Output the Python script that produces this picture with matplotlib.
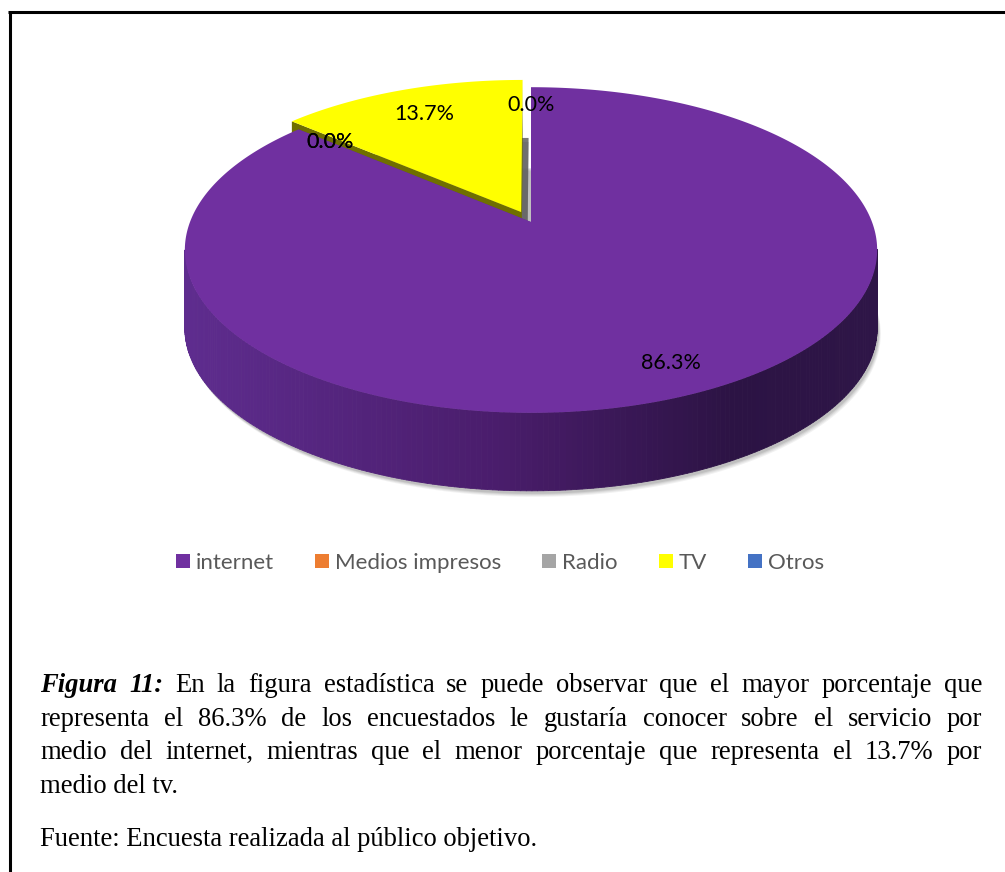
import numpy as np
import matplotlib.pyplot as plt
from matplotlib.patches import Polygon, Patch
from matplotlib.collections import PolyCollection
from matplotlib.colors import LinearSegmentedColormap

# survey answers (percent)
categories = ["internet", "Medios impresos", "Radio", "TV", "Otros"]
shares = [86.3, 0.0, 0.0, 13.7, 0.0]
colors = ["#7030A0", "#ED7D31", "#A5A5A5", "#FFFF00", "#4472C4"]
side_dark = ["#5E2C8E", "#A0501C", "#6E6E6E", "#6F6F00", "#2C4D8A"]
explode = [0.0, 0.0, 0.0, 0.07, 0.0]

caption_lines = [
    "Figura 11: En la figura estadística se puede observar que el mayor porcentaje que",
    "representa el 86.3% de los encuestados le gustaría conocer sobre el servicio por",
    "medio del internet, mientras que el menor porcentaje que representa el 13.7% por",
    "medio del tv.",
]
source_line = "Fuente: Encuesta realizada al público objetivo."

# 3d pie projection (pixel space)
CX, CY = 531.0, 222.0
A, B, K = 341.0, 158.0, 0.172
DEPTH = 78.0
LABEL_R = 0.85

purple_side = LinearSegmentedColormap.from_list(
    "side", [(0, "#5E2C8E"), (0.45, "#4A1D6C"), (0.8, "#2C1344"), (1, "#2E1547")]
)
olive_side = LinearSegmentedColormap.from_list("olive", ["#7A7A00", "#5F5F00"])


def project(u, v, drop=0.0):
    w = 1 + K * np.asarray(v)
    return CX + A * np.asarray(u) / w, CY - B * np.asarray(v) / w + drop


def rim(t0, t1, off, n=400):
    ts = np.radians(np.linspace(t0, t1, n))
    return project(off[0] + np.sin(ts), off[1] + np.cos(ts))


fig = plt.figure(figsize=(10.05, 8.72), dpi=100)
ax = fig.add_axes([0, 0, 1, 1])
ax.set_xlim(0, 1005)
ax.set_ylim(872, 0)
ax.axis("off")

# soft drop shadow below the whole pie
bx, by = rim(0, 360, (0, 0), 720)
for k, a in enumerate([0.10, 0.12, 0.16, 0.22]):
    d = 6 - k
    ax.add_patch(Polygon(np.c_[bx + d * 0.6, by + DEPTH + d], closed=True,
                         facecolor="#7f7f7f", edgecolor="none", alpha=a, zorder=0))

starts = np.concatenate([[0], np.cumsum(shares)[:-1]]) * 3.6
ends = np.cumsum(shares) * 3.6
mids = (starts + ends) / 2

# back slices first
order = sorted(range(len(shares)), key=lambda i: -np.cos(np.radians(mids[i])))
z = 1
for i in order:
    if shares[i] <= 0:
        continue
    m = np.radians(mids[i])
    off = (explode[i] * np.sin(m), explode[i] * np.cos(m))
    tx, ty = rim(starts[i], ends[i], off)
    apx, apy = project(off[0], off[1])

    if explode[i] > 0:
        # shadow the lifted slice throws onto its neighbour
        for d, a in [(0, 0.85), (4, 0.35)]:
            ax.add_patch(Polygon(np.c_[np.r_[apx, tx] + 6, np.r_[apy, ty] + 58 + d],
                                 closed=True, facecolor="#606060", edgecolor="none",
                                 alpha=a, zorder=z))
        z += 1

    cmap = purple_side if i == 0 else olive_side
    # outer wall, only front facing segments
    quads, qc = [], []
    for j in range(len(tx) - 1):
        if tx[j + 1] - tx[j] >= 0:
            continue
        quads.append([(tx[j], ty[j]), (tx[j + 1], ty[j + 1]),
                      (tx[j + 1], ty[j + 1] + DEPTH), (tx[j], ty[j] + DEPTH)])
        qc.append(cmap((tx[j] - (CX - A)) / (2 * A)))
    if quads:
        ax.add_collection(PolyCollection(quads, facecolors=qc, edgecolors=qc,
                                         linewidths=0.6, zorder=z))
    z += 1

    # cut faces
    for ex, ey in [(tx[0], ty[0]), (tx[-1], ty[-1])]:
        ax.add_patch(Polygon([(apx, apy), (ex, ey), (ex, ey + DEPTH), (apx, apy + DEPTH)],
                             closed=True, facecolor=side_dark[i], edgecolor="none", zorder=z))
    z += 1

    ax.add_patch(Polygon(np.c_[np.r_[apx, tx], np.r_[apy, ty]], closed=True,
                         facecolor=colors[i], edgecolor="none", zorder=z))
    z += 1

# data labels
for i in range(len(shares)):
    m = np.radians(mids[i])
    lx, ly = project(LABEL_R * np.sin(m), LABEL_R * np.cos(m))
    ax.text(lx, ly, f"{shares[i]:.1f}%", ha="center", va="center",
            fontsize=15.5, family="Lato", color="black", zorder=50)

handles = [Patch(facecolor=c, edgecolor="none") for c in colors]
ax.legend(handles, categories, loc="center", bbox_to_anchor=(500, 563),
          bbox_transform=ax.transData, ncol=5, frameon=False,
          prop={"family": "Lato", "size": 16}, labelcolor="#595959",
          handlelength=0.63, handleheight=0.63, handletextpad=0.27,
          columnspacing=1.85)

# frame
ax.plot([8, 1005], [12.5, 12.5], color="black", lw=2.2, solid_capstyle="butt")
ax.plot([9.5, 9.5], [11, 872], color="black", lw=2.2, solid_capstyle="butt")

# justified caption, last line left aligned
renderer = fig.canvas.get_renderer()
left, right = 40, 982
baselines = [692, 725.5, 759, 792.5]
serif = {"family": "Liberation Serif", "size": 19.2, "color": "black"}
for n, (line, yb) in enumerate(zip(caption_lines, baselines)):
    if n == len(caption_lines) - 1:
        ax.text(left, yb, line, ha="left", va="baseline", zorder=60, **serif)
        continue
    words = line.split(" ")
    texts = []
    for w_i, w in enumerate(words):
        style = dict(serif)
        if n == 0 and w_i < 2:
            style.update(weight="bold", style="italic")
        texts.append(ax.text(0, yb, w, ha="left", va="baseline", zorder=60, **style))
    widths = [t.get_window_extent(renderer).width for t in texts]
    gap = (right - left - sum(widths)) / (len(words) - 1)
    x = left
    for t, w in zip(texts, widths):
        t.set_x(x)
        x += w + gap

ax.text(left, 846, source_line, ha="left", va="baseline", zorder=60, **serif)

fig.savefig("out.png", dpi=100)
